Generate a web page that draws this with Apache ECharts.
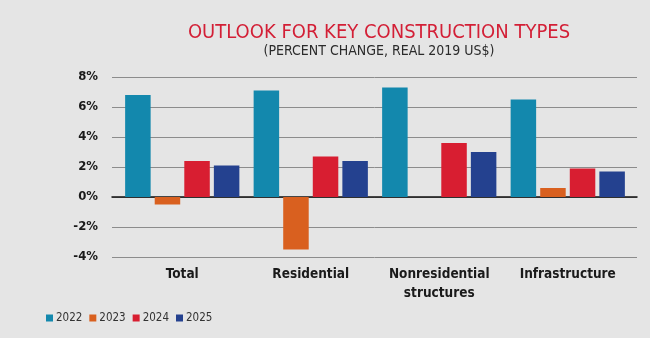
<!DOCTYPE html>
<html>
<head>
<meta charset="utf-8">
<script src="https://cdn.jsdelivr.net/npm/echarts@6/dist/echarts.min.js"></script>
<style>
  html, body { margin: 0; padding: 0; background: #e5e5e5; }
  #chart { width: 650px; height: 338px; }
</style>
</head>
<body>
<div id="chart"></div>
<script>
// Construction outlook: real percent change by construction type
const categories = ['Total', 'Residential', 'Nonresidential\nstructures', 'Infrastructure'];
const years = ['2022', '2023', '2024', '2025'];
const values2022 = [6.8, 7.1, 7.3, 6.5];
const values2023 = [-0.5, -3.5, null, 0.6];
const values2024 = [2.4, 2.7, 3.6, 1.9];
const values2025 = [2.1, 2.4, 3.0, 1.7];
const yTicks = { min: -4, max: 8, interval: 2 };

const colors = ['#1388ad', '#d9601f', '#d81e31', '#24418f'];
const FONT = '"Liberation Sans Narrow", "DejaVu Sans Condensed", "Roboto", sans-serif';

const seriesValues = [values2022, values2023, values2024, values2025];

const chart = echarts.init(document.getElementById('chart'), null, { renderer: 'canvas' });

chart.setOption({
  backgroundColor: '#e5e5e5',
  animation: false,
  title: [
    {
      text: 'OUTLOOK FOR KEY CONSTRUCTION TYPES',
      left: 374, top: 18, textAlign: 'center',
      textStyle: { color: '#d31f36', fontFamily: FONT, fontWeight: 'normal', fontSize: 20 }
    },
    {
      text: '(PERCENT CHANGE, REAL 2019 US$)',
      left: 374, top: 39, textAlign: 'center',
      textStyle: { color: '#2b2b2b', fontFamily: FONT, fontWeight: 'normal', fontSize: 14 }
    }
  ],
  legend: {
    data: years,
    left: 41, top: 307,
    icon: 'rect', itemWidth: 7, itemHeight: 7, itemGap: 7,
    textStyle: { color: '#333', fontFamily: FONT, fontSize: 11.5, padding: [0, 0, 0, -2] }
  },
  grid: [
    // gridlines and zero line across the full plot width
    { left: 112, right: 13, top: 77, bottom: 81 },
    // bars and category labels
    { left: 118, right: 18, top: 77, bottom: 81 }
  ],
  xAxis: [
    {
      gridIndex: 0, type: 'category', data: categories,
      axisLine: { show: true, onZero: true, lineStyle: { color: '#111', width: 1.5 } },
      axisTick: { show: false }, axisLabel: { show: false }, splitLine: { show: false }
    },
    {
      gridIndex: 1, type: 'category', data: categories,
      axisLine: { show: false, onZero: false },
      axisTick: { show: false },
      axisLabel: {
        interval: 0, margin: 8, color: '#1a1a1a', fontFamily: FONT, fontWeight: 'bold',
        fontSize: 13.5, lineHeight: 19
      }
    }
  ],
  yAxis: [
    {
      gridIndex: 0, type: 'value', min: yTicks.min, max: yTicks.max, interval: yTicks.interval,
      axisLine: { show: false }, axisTick: { show: false },
      axisLabel: {
        margin: 14, color: '#1a1a1a', fontFamily: FONT, fontWeight: 'bold', fontSize: 13,
        formatter: v => v + '%'
      },
      splitLine: { show: true, lineStyle: { color: '#8c8c8c', width: 1 } }
    },
    {
      gridIndex: 1, type: 'value', min: yTicks.min, max: yTicks.max, interval: yTicks.interval,
      show: false, splitLine: { show: false }
    }
  ],
  series: years.map((y, i) => ({
    name: y,
    type: 'bar',
    xAxisIndex: 1, yAxisIndex: 1,
    data: seriesValues[i],
    barWidth: 25.5,
    barGap: '16%',
    itemStyle: { color: colors[i] },
    z: 3
  }))
});
</script>
</body>
</html>
